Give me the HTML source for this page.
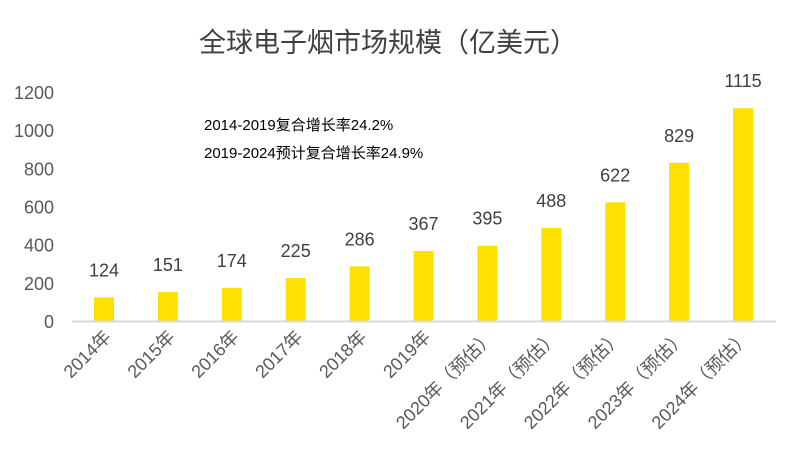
<!DOCTYPE html>
<html><head><meta charset="utf-8"><style>
body{margin:0;background:#fff}
svg text{font-family:"Liberation Sans","Noto Sans CJK SC",sans-serif;}
</style></head><body>
<svg id="chart" width="785" height="454" viewBox="0 0 785 454" xmlns="http://www.w3.org/2000/svg">
<rect width="785" height="454" fill="#fff"/>
<text x="388" y="52" text-anchor="middle" font-size="27" fill="#404040">全球电子烟市场规模（亿美元）</text>
<text x="204" y="130" font-size="15" fill="#000">2014-2019复合增长率24.2%</text>
<text x="204" y="158" font-size="15" fill="#000">2019-2024预计复合增长率24.9%</text>
<g id="yaxis"></g><g id="bars"></g><g id="xlabels"></g>
<line x1="72" y1="321.5" x2="776" y2="321.5" stroke="#d9d9d9" stroke-width="2"/>
</svg>
<script>
const categories=["2014年","2015年","2016年","2017年","2018年","2019年","2020年（预估）","2021年（预估）","2022年（预估）","2023年（预估）","2024年（预估）"];
const values=[124,151,174,225,286,367,395,488,622,829,1115];
const yTicks=[0,200,400,600,800,1000,1200];
const NS="http://www.w3.org/2000/svg";
const y0=321,pxPerUnit=(321-92)/1200;
function yScale(v){return y0-v*pxPerUnit;}
function xScale(i){return 104+i*63.9;}
function mk(tag,attrs,parent,txt){const e=document.createElementNS(NS,tag);for(const k in attrs)e.setAttribute(k,attrs[k]);if(txt!==undefined)e.textContent=txt;parent.appendChild(e);return e;}
const ya=document.getElementById('yaxis'),bg=document.getElementById('bars'),xl=document.getElementById('xlabels');
yTicks.forEach(t=>{
  const e=mk('text',{x:54,y:yScale(t)+7,'text-anchor':'end','font-size':18,fill:'#595959'},ya,t);
  
  
});
values.forEach((v,i)=>{
  const cx=xScale(i);
  const r=mk('rect',{x:cx-10,y:yScale(v),width:20,height:y0-yScale(v),fill:'#FFE100'},bg);
  
  
  const t=mk('text',{x:cx,y:yScale(v)-21,'text-anchor':'middle','font-size':18,fill:'#404040'},bg,v);
  
  
  const lx=cx+8,ly=338;
  const l=mk('text',{x:lx,y:ly,'text-anchor':'end','font-size':18,fill:'#595959',transform:`rotate(-45 ${lx} ${ly})`},xl,categories[i]);
  
  
});
</script>
</body></html>
